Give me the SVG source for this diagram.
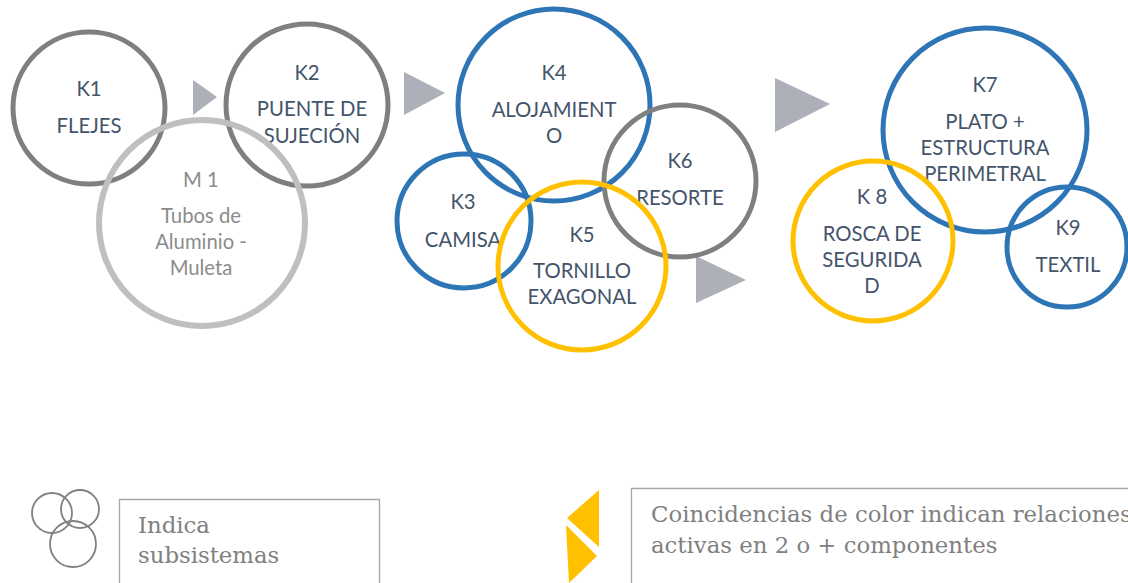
<svg xmlns="http://www.w3.org/2000/svg" width="1128" height="583" viewBox="0 0 1128 583">
<style>
.c{fill:none;stroke-width:5}
.g{stroke:#7f7f7f}
.lg{stroke:#bfbfbf;stroke-width:6}
.b{stroke:#2e75b6}
.y{stroke:#ffc000}
.t{font-family:Lato,"Liberation Sans",sans-serif;font-size:20.3px;fill:#44546a;text-anchor:middle}
.tm{fill:#8c8c8c}
.arr{fill:#adb0b8}
.lt{font-family:"DejaVu Serif",serif;font-size:22.8px;fill:#808080}
</style>
<rect width="1128" height="583" fill="#ffffff"/>
<g id="connectors">
<polygon class="arr" points="193,80 217,97 193,115"/>
<polygon class="arr" points="404,72 445,93 404,115"/>
<polygon class="arr" points="696,256 746,280 696,303"/>
<polygon class="arr" points="775,78 830,104 775,132"/>
</g>
<g id="K1"><circle class="c g" cx="89" cy="108" r="76"/><text class="t" x="89" y="96">K1</text><text class="t" x="89" y="133">FLEJES</text></g>
<g id="K2"><circle class="c g" cx="307" cy="105" r="81"/><text class="t" x="307" y="80">K2</text><text class="t" x="312" y="116">PUENTE DE</text><text class="t" x="312" y="143">SUJECIÓN</text></g>
<g id="M1"><circle class="c lg" cx="202" cy="223" r="103"/><text class="t tm" x="201" y="187">M 1</text><text class="t tm" x="201" y="223">Tubos de</text><text class="t tm" x="201" y="249">Aluminio -</text><text class="t tm" x="201" y="275">Muleta</text></g>
<g id="K4"><circle class="c b" cx="554" cy="105" r="96"/><text class="t" x="554" y="80">K4</text><text class="t" x="554" y="117">ALOJAMIENT</text><text class="t" x="554" y="143">O</text></g>
<g id="K3"><circle class="c b" cx="464" cy="221" r="67"/><text class="t" x="463" y="209">K3</text><text class="t" x="463" y="247">CAMISA</text></g>
<g id="K6"><circle class="c g" cx="680" cy="181" r="76"/><text class="t" x="680" y="168">K6</text><text class="t" x="680" y="205">RESORTE</text></g>
<g id="K5"><circle class="c y" cx="582" cy="266" r="84"/><text class="t" x="582" y="242">K5</text><text class="t" x="582" y="278">TORNILLO</text><text class="t" x="582" y="304">EXAGONAL</text></g>
<g id="K7"><circle class="c b" cx="985" cy="130" r="102"/><text class="t" x="985" y="92">K7</text><text class="t" x="985" y="129">PLATO +</text><text class="t" x="985" y="155">ESTRUCTURA</text><text class="t" x="985" y="181">PERIMETRAL</text></g>
<g id="K8"><circle class="c y" cx="873" cy="241" r="80"/><text class="t" x="872" y="204">K 8</text><text class="t" x="872" y="241">ROSCA DE</text><text class="t" x="872" y="267">SEGURIDA</text><text class="t" x="872" y="293">D</text></g>
<g id="K9"><circle class="c b" cx="1067" cy="247" r="60"/><text class="t" x="1068" y="235">K9</text><text class="t" x="1068" y="272">TEXTIL</text></g>
<g id="legend-subsistemas">
<circle cx="52" cy="513" r="20" fill="none" stroke="#808080" stroke-width="1.8"/>
<circle cx="80" cy="509" r="19" fill="none" stroke="#808080" stroke-width="1.8"/>
<circle cx="73" cy="544" r="23" fill="none" stroke="#808080" stroke-width="1.8"/>
<path d="M119.5,590 V499.5 H379.5 V590" fill="none" stroke="#a6a6a6" stroke-width="1.3"/>
<text class="lt" x="138" y="533">Indica</text>
<text class="lt" x="138" y="563">subsistemas</text>
</g>
<g id="legend-color">
<polygon points="599,490 599,547 567,518" fill="#ffc000"/>
<polygon points="566,525 597,556 569,583" fill="#ffc000"/>
<path d="M631.5,590 V488.5 H1130" fill="none" stroke="#a6a6a6" stroke-width="1.3"/>
<text class="lt" x="651" y="522">Coincidencias de color indican relaciones</text>
<text class="lt" x="651" y="553">activas en 2 o + componentes</text>
</g>
</svg>
